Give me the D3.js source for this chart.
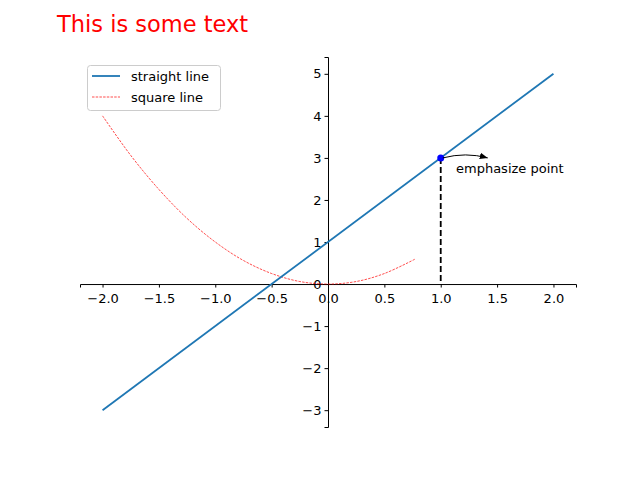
<!DOCTYPE html><html><head><meta charset="utf-8"><script src="https://cdn.jsdelivr.net/npm/d3@7"></script>
<style>body{margin:0}text{font-family:"DejaVu Sans";}</style></head><body>
<svg id="c" width="640" height="480"></svg>
<script>
const lineX=[-2,2], lineY=[-3,5];
const sqX=[-2,-1.75,-1.5,-1.25,-1,-0.75,-0.5,-0.25,0,0.25,0.5,0.77];
const sqY=[4,3.06,2.25,1.56,1,0.56,0.25,0.06,0,0.06,0.25,0.59];
const pt=[1,3];
const xTicks=[-2,-1.5,-1,-0.5,0,0.5,1,1.5,2];
const yTicks=[-3,-2,-1,0,1,2,3,4,5];
const svg=d3.select("#c");
const x=d3.scaleLinear().domain([-2.2,2.2]).range([80,576]);
const y=d3.scaleLinear().domain([-3.4,5.4]).range([427,57]);
const fmt=v=>(v<0?"\u2212":"")+Math.abs(v).toFixed(1);
const gx=svg.append("g").attr("transform",`translate(0,${y(0)})`).call(d3.axisBottom(x).tickValues(xTicks).tickFormat(fmt).tickSizeOuter(0).tickSize(3.5));
const gy=svg.append("g").attr("transform",`translate(${x(0)},0)`).call(d3.axisLeft(y).tickValues(yTicks).tickFormat(v=>(v<0?"\u2212":"")+Math.abs(v)).tickSizeOuter(0).tickSize(3.5));
[gx,gy].forEach(g=>{g.selectAll("text").attr("font-size",13).attr("font-family","DejaVu Sans").attr("fill","#000");g.select(".domain").attr("stroke","#000");g.selectAll(".tick line").attr("stroke","#000");});
gx.selectAll("text").attr("dy","0.95em");
svg.append("path").attr("fill","none").attr("stroke","red").attr("stroke-width",0.7).attr("stroke-dasharray","2.5,1.2").attr("d",d3.line().curve(d3.curveCatmullRom).x(d=>x(d[0])).y(d=>y(d[1]))(sqX.map((v,i)=>[v,sqY[i]])));
const L=d3.line().x(d=>x(d[0])).y(d=>y(d[1]));
svg.append("path").attr("d",L(lineX.map((v,i)=>[v,lineY[i]]))).attr("fill","none").attr("stroke","#1f77b4").attr("stroke-width",1.8);
svg.append("line").attr("x1",x(pt[0])).attr("x2",x(pt[0])).attr("y1",y(pt[1])).attr("y2",y(0)).attr("stroke","#000").attr("stroke-width",1.8).attr("stroke-dasharray","6,3");
svg.append("circle").attr("cx",x(pt[0])).attr("cy",y(pt[1])).attr("r",3.5).attr("fill","#0000ff");
svg.append("defs").append("marker").attr("id","ar").attr("viewBox","0 0 10 10").attr("refX",10).attr("refY",5).attr("markerWidth",8).attr("markerHeight",8).attr("orient","auto").append("path").attr("d","M0,1L10,5L0,9z").attr("fill","#000");
const px=x(pt[0]),py=y(pt[1]);
svg.append("path").attr("d",`M${px+2},${py}Q${px+25},${py-6} ${px+47},${py}`).attr("fill","none").attr("stroke","#000").attr("marker-end","url(#ar)");
svg.append("text").attr("x",456).attr("y",173).attr("font-size",13).text("emphasize point");
svg.append("text").attr("x",57).attr("y",32).attr("font-size",22.5).attr("fill","red").text("This is some text");
const lg=svg.append("g");
lg.append("rect").attr("x",87.5).attr("y",65.5).attr("width",133).attr("height",45).attr("rx",3).attr("fill","#fff").attr("stroke","#ccc");
lg.append("line").attr("x1",92).attr("x2",120).attr("y1",76).attr("y2",76).attr("stroke","#1f77b4").attr("stroke-width",1.8);
lg.append("line").attr("x1",92).attr("x2",120).attr("y1",97).attr("y2",97).attr("stroke","red").attr("stroke-width",0.7).attr("stroke-dasharray","2.5,1.2");
lg.append("text").attr("x",131).attr("y",81).attr("font-size",13).text("straight line");
lg.append("text").attr("x",131).attr("y",102).attr("font-size",13).text("square line");
</script></body></html>
